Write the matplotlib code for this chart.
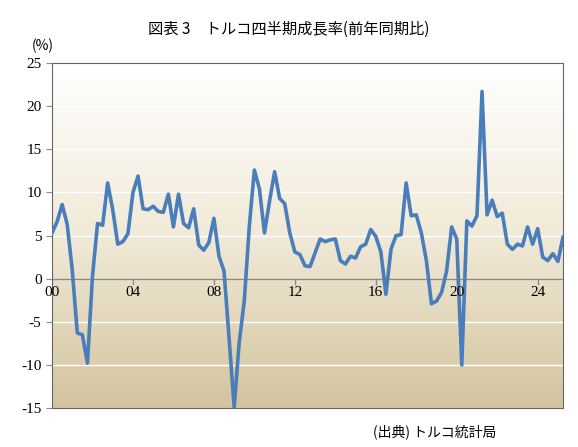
import numpy as np
import matplotlib.pyplot as plt
from matplotlib.colors import LinearSegmentedColormap

# 前年同期比 (%), 2000Q1〜2025Q2
growth = [
    5.3, 6.6, 8.6, 6.3,
    1.0, -6.3, -6.5, -9.8,
    0.3, 6.4, 6.2, 11.1,
    8.0, 4.0, 4.3, 5.2,
    10.0, 11.9, 8.1, 8.0,
    8.4, 7.8, 7.7, 9.8,
    6.0, 9.8, 6.4, 5.9,
    8.1, 3.9, 3.3, 4.2,
    7.0, 2.6, 0.9, -6.9,
    -14.9, -7.4, -2.6, 6.1,
    12.6, 10.4, 5.3, 9.0,
    12.4, 9.3, 8.7, 5.3,
    3.1, 2.8, 1.5, 1.4,
    3.0, 4.6, 4.3, 4.5,
    4.6, 2.1, 1.7, 2.6,
    2.4, 3.7, 4.0, 5.7,
    4.9, 3.1, -1.8, 3.4,
    5.0, 5.1, 11.1, 7.3,
    7.4, 5.3, 2.1, -2.9,
    -2.6, -1.6, 0.9, 6.0,
    4.6, -10.0, 6.7, 6.1,
    7.3, 21.7, 7.4, 9.1,
    7.2, 7.6, 4.0, 3.4,
    4.0, 3.8, 6.0, 4.0,
    5.8, 2.5, 2.1, 2.9,
    2.0, 4.8,
]
tick_years = [0, 4, 8, 12, 16, 20, 24]
tick_labels = ["00", "04", "08", "12", "16", "20", "24"]
y_ticks = list(range(-15, 30, 5))

JP = ["Noto Sans CJK JP", "DejaVu Sans"]
NUM = "Liberation Serif"

fig = plt.figure(figsize=(5.78, 4.47), dpi=100, facecolor="white")
ax = fig.add_axes([0.09, 0.087, 0.884, 0.772])

x = np.arange(len(growth)) / 4
xmax = 25.25

# 背景グラデーション（上：白 → 下：ベージュ）
cmap = LinearSegmentedColormap.from_list("bg", ["#ffffff", "#f1ead8", "#d3c49e"])
grad = np.linspace(0, 1, 256).reshape(-1, 1)
ax.imshow(grad, extent=[0, xmax, -15, 25], origin="upper", aspect="auto",
          cmap=cmap, zorder=0)

for yv in y_ticks[1:-1]:
    ax.axhline(yv, color="white", linewidth=1.0, zorder=1)
ax.axhline(0, color="#8a8a8a", linewidth=1.0, zorder=2)

ax.plot(x, growth, color="#4a7ebb", linewidth=2.6, zorder=3)

ax.set_xlim(0, xmax)
ax.set_ylim(-15, 25)
ax.set_yticks(y_ticks)
ax.set_yticklabels([str(v) for v in y_ticks], fontfamily=NUM, fontsize=11)
ax.set_xticks([])
for t, lab in zip(tick_years, tick_labels):
    ax.plot([t, t], [0, -0.6], color="#8a8a8a", linewidth=1.0, zorder=2)
    ax.text(t, -0.9, lab, ha="center", va="top", fontfamily=NUM, fontsize=11, zorder=4)

for s in ax.spines.values():
    s.set_color("#666666")
ax.tick_params(axis="y", length=4, color="#8a8a8a")

fig.text(0.5, 0.935, "図表 3　トルコ四半期成長率(前年同期比)", ha="center", va="center",
         fontfamily=JP, fontsize=11)
fig.text(0.055, 0.898, "(%)", ha="left", va="center", fontfamily=JP, fontsize=10)
fig.text(0.645, 0.034, "(出典) トルコ統計局", ha="left", va="center",
         fontfamily=JP, fontsize=10)

fig.savefig("out.png", dpi=100, facecolor="white")
